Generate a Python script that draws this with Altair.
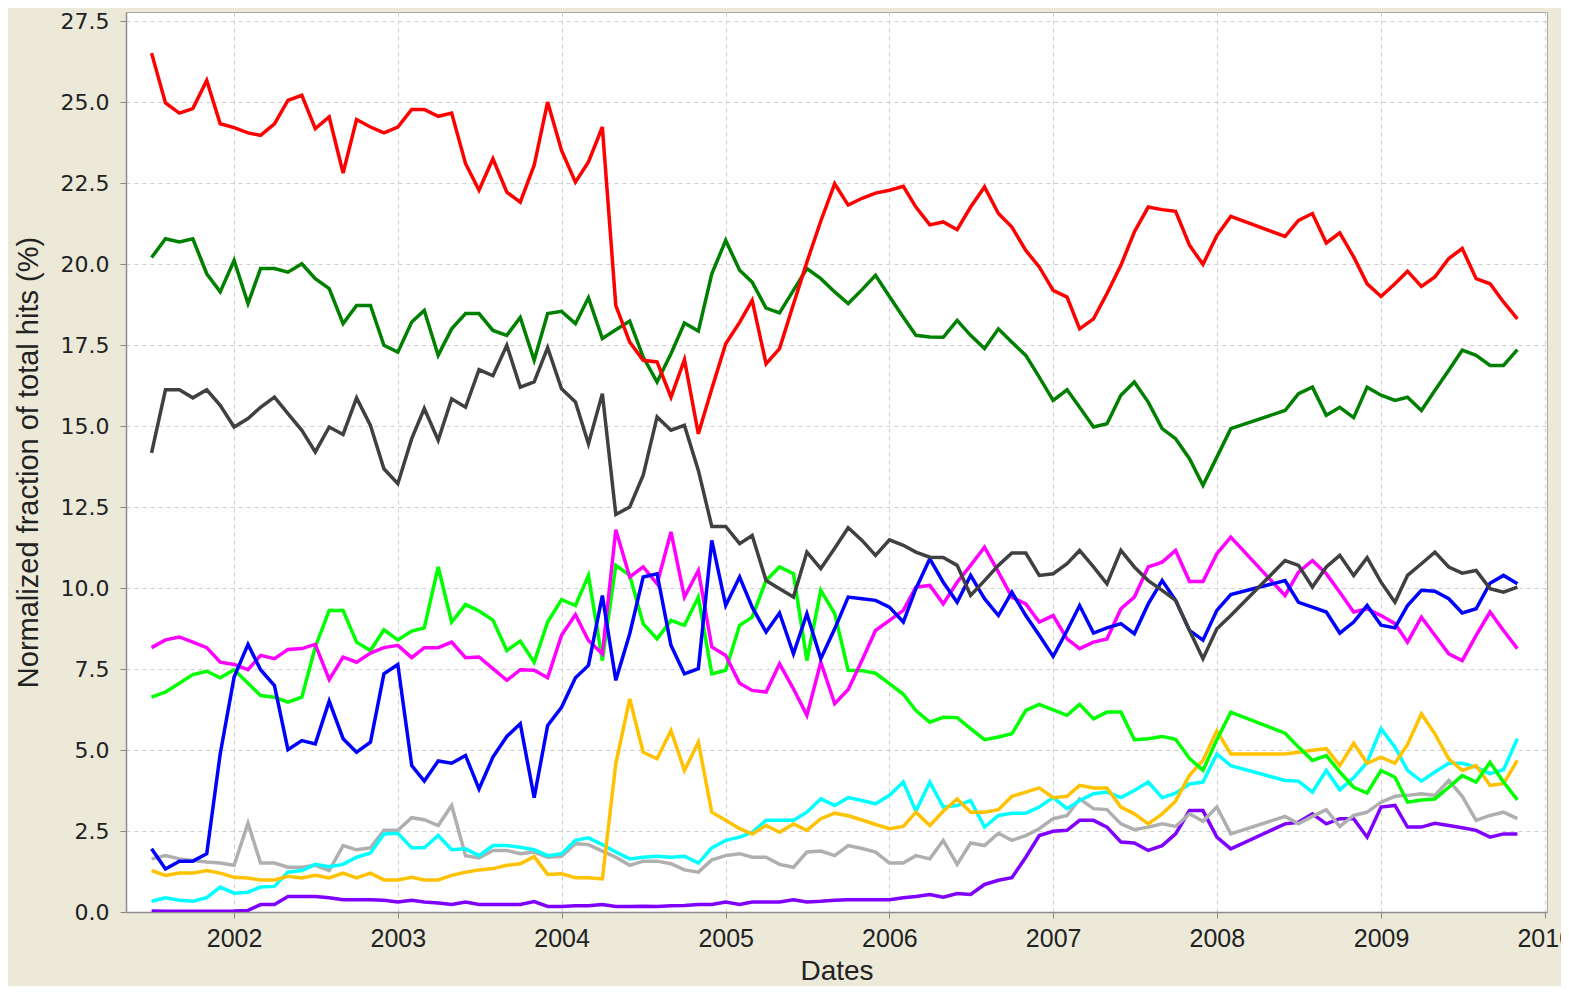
import altair as alt
import pandas as pd

N = None
red = [26.51, 24.97, 24.66, 24.80, 25.67, 24.33, 24.21, 24.05, 23.97, 24.33, 25.05, 25.21, 24.18, 24.54, 22.81, 24.46, 24.23, 24.05, 24.23, 24.77, 24.77, 24.56, 24.66, 23.10, 22.28, 23.25, 22.22, 21.91, 23.05, 25.00, 23.51, 22.53, 23.15, 24.23, 18.72, 17.59, 17.03, 16.98, 15.89, 17.05, 14.76, 16.15, 17.54, 18.20, 18.88, 16.92, 17.39, 18.76, 20.06, 21.33, 22.48, 21.82, 22.03, 22.19, 22.28, 22.40, 21.76, 21.21, 21.30, 21.06, 21.76, 22.38, 21.56, 21.14, 20.42, 19.91, 19.19, 18.98, 18.00, 18.31, 19.09, 19.96, 20.99, 21.76, 21.68, 21.63, 20.58, 19.99, 20.88, 21.47, N, N, N, 20.85, 21.35, 21.56, 20.65, 20.96, 20.22, 19.39, 19.00, 19.39, 19.78, 19.31, 19.60, 20.17, 20.48, 19.55, 19.39, 18.83, 18.31]
dark_green = [20.20, 20.78, 20.68, 20.78, 19.70, 19.14, 20.11, 18.78, 19.86, 19.86, 19.75, 20.01, 19.55, 19.24, 18.16, 18.72, 18.72, 17.49, 17.28, 18.21, 18.57, 17.18, 18.00, 18.47, 18.47, 17.95, 17.80, 18.35, 17.03, 18.47, 18.54, 18.16, 18.96, 17.70, 17.97, 18.24, 17.13, 16.36, 17.23, 18.18, 17.93, 19.70, 20.73, 19.81, 19.44, 18.64, 18.49, 19.19, 19.86, 19.55, 19.14, 18.78, 19.21, 19.65, 19.00, 18.36, 17.80, 17.75, 17.74, 18.26, 17.80, 17.39, 18.00, 17.59, 17.18, 16.51, 15.79, 16.12, 15.58, 14.97, 15.07, 15.95, 16.36, 15.74, 14.92, 14.61, 13.99, 13.17, 14.04, 14.92, N, N, N, 15.48, 16.00, 16.20, 15.33, 15.58, 15.26, 16.20, 15.95, 15.79, 15.89, 15.48, 16.10, 16.72, 17.34, 17.18, 16.87, 16.87, 17.36]
dark_gray = [14.17, 16.12, 16.12, 15.87, 16.12, 15.64, 14.97, 15.23, 15.58, 15.89, 15.38, 14.87, 14.20, 14.97, 14.74, 15.87, 15.02, 13.68, 13.22, 14.61, 15.54, 14.56, 15.84, 15.58, 16.74, 16.55, 17.49, 16.20, 16.36, 17.42, 16.15, 15.74, 14.45, 16.00, 12.27, 12.50, 13.48, 15.28, 14.87, 15.02, 13.63, 11.90, 11.90, 11.37, 11.62, 10.23, 9.98, 9.72, 11.11, 10.60, 11.23, 11.86, 11.47, 11.01, 11.49, 11.32, 11.11, 10.95, 10.94, 10.70, 9.77, 10.23, 10.70, 11.08, 11.08, 10.39, 10.44, 10.75, 11.16, 10.65, 10.13, 11.16, 10.65, 10.23, 9.93, 9.62, 8.69, 7.82, 8.74, 9.15, N, N, N, 10.85, 10.70, 10.03, 10.65, 11.01, 10.39, 10.94, 10.18, 9.56, 10.39, 10.75, 11.11, 10.65, 10.46, 10.54, 9.98, 9.87, 10.03]
magenta = [8.16, 8.40, 8.49, 8.33, 8.16, 7.71, 7.64, 7.48, 7.92, 7.82, 8.10, 8.13, 8.26, 7.17, 7.87, 7.71, 7.99, 8.16, 8.23, 7.85, 8.16, 8.16, 8.33, 7.85, 7.87, 7.51, 7.15, 7.48, 7.46, 7.23, 8.54, 9.18, 8.38, 7.97, 11.80, 10.34, 10.65, 10.13, 11.73, 9.72, 10.54, 8.18, 7.92, 7.06, 6.84, 6.79, 7.66, 6.89, 6.07, 7.71, 6.43, 6.87, 7.77, 8.69, 9.00, 9.31, 10.03, 10.08, 9.51, 10.18, 10.70, 11.26, 10.49, 9.72, 9.51, 8.95, 9.15, 8.43, 8.13, 8.33, 8.43, 9.36, 9.72, 10.65, 10.80, 11.16, 10.20, 10.20, 11.06, 11.57, N, N, N, 9.77, 10.49, 10.85, 10.44, 9.87, 9.26, 9.36, 9.15, 8.90, 8.33, 9.10, 8.54, 7.97, 7.76, 8.54, 9.26, 8.69, 8.13]
blue = [1.95, 1.33, 1.57, 1.57, 1.80, 4.88, 7.25, 8.26, 7.48, 6.99, 5.01, 5.29, 5.19, 6.51, 5.35, 4.93, 5.24, 7.35, 7.64, 4.52, 4.04, 4.66, 4.59, 4.83, 3.80, 4.78, 5.42, 5.81, 3.53, 5.76, 6.32, 7.23, 7.61, 9.77, 7.15, 8.59, 10.34, 10.44, 8.23, 7.35, 7.51, 11.47, 9.46, 10.34, 9.41, 8.64, 9.23, 7.97, 9.21, 7.82, 8.74, 9.72, 9.67, 9.62, 9.41, 8.95, 9.98, 10.90, 10.18, 9.56, 10.39, 9.67, 9.15, 9.87, 9.15, 8.54, 7.89, 8.69, 9.46, 8.61, 8.77, 8.90, 8.59, 9.51, 10.23, 9.62, 8.69, 8.39, 9.31, 9.80, N, N, N, 10.23, 9.56, 9.41, 9.26, 8.61, 8.95, 9.46, 8.85, 8.77, 9.46, 9.93, 9.90, 9.67, 9.23, 9.36, 10.15, 10.39, 10.13]
lime = [6.63, 6.79, 7.06, 7.33, 7.43, 7.23, 7.48, 7.06, 6.68, 6.63, 6.48, 6.63, 8.18, 9.31, 9.31, 8.33, 8.07, 8.71, 8.40, 8.67, 8.77, 10.65, 8.95, 9.49, 9.29, 9.01, 8.07, 8.36, 7.71, 8.95, 9.64, 9.46, 10.39, 7.76, 10.70, 10.39, 8.90, 8.43, 9.00, 8.85, 9.72, 7.35, 7.46, 8.85, 9.10, 10.23, 10.65, 10.44, 7.76, 9.93, 9.21, 7.46, 7.45, 7.37, 7.05, 6.72, 6.22, 5.86, 6.01, 6.00, 5.66, 5.32, 5.40, 5.50, 6.22, 6.41, 6.24, 6.07, 6.41, 5.96, 6.17, 6.17, 5.32, 5.35, 5.42, 5.33, 4.74, 4.37, 5.32, 6.17, N, N, N, 5.52, 5.09, 4.68, 4.83, 4.32, 3.85, 3.67, 4.37, 4.16, 3.39, 3.46, 3.49, 3.85, 4.21, 4.01, 4.62, 4.01, 3.46]
orange = [1.28, 1.13, 1.20, 1.20, 1.28, 1.20, 1.07, 1.05, 0.99, 0.99, 1.10, 1.05, 1.13, 1.05, 1.20, 1.05, 1.20, 0.99, 0.99, 1.07, 0.99, 0.99, 1.13, 1.23, 1.30, 1.34, 1.44, 1.49, 1.71, 1.16, 1.18, 1.06, 1.06, 1.02, 4.58, 6.58, 4.93, 4.73, 5.60, 4.37, 5.24, 3.08, 2.83, 2.57, 2.41, 2.67, 2.46, 2.72, 2.52, 2.88, 3.05, 2.97, 2.84, 2.70, 2.57, 2.64, 3.08, 2.67, 3.11, 3.49, 3.08, 3.08, 3.16, 3.57, 3.70, 3.83, 3.53, 3.57, 3.91, 3.83, 3.83, 3.24, 3.03, 2.72, 3.03, 3.42, 4.22, 4.68, 5.59, 4.88, N, N, N, 4.88, 4.93, 4.99, 5.04, 4.52, 5.21, 4.59, 4.78, 4.59, 5.17, 6.12, 5.50, 4.73, 4.37, 4.52, 3.91, 3.96, 4.68]
cyan = [0.33, 0.44, 0.36, 0.33, 0.44, 0.77, 0.58, 0.61, 0.77, 0.79, 1.23, 1.28, 1.47, 1.40, 1.47, 1.69, 1.82, 2.41, 2.43, 1.98, 1.98, 2.36, 1.92, 1.95, 1.74, 2.05, 2.05, 2.00, 1.92, 1.74, 1.80, 2.21, 2.29, 2.08, 1.85, 1.64, 1.69, 1.72, 1.69, 1.72, 1.51, 1.98, 2.21, 2.31, 2.46, 2.83, 2.83, 2.83, 3.08, 3.49, 3.29, 3.53, 3.44, 3.34, 3.60, 4.01, 3.11, 4.01, 3.24, 3.29, 3.44, 2.62, 2.98, 3.05, 3.05, 3.24, 3.53, 3.19, 3.44, 3.65, 3.70, 3.53, 3.75, 4.01, 3.53, 3.67, 3.95, 4.01, 4.88, 4.52, N, N, N, 4.06, 4.04, 3.70, 4.37, 3.77, 4.14, 4.62, 5.66, 5.09, 4.37, 4.04, 4.32, 4.59, 4.59, 4.47, 4.27, 4.39, 5.35]
light_gray = [1.64, 1.74, 1.64, 1.59, 1.54, 1.51, 1.44, 2.74, 1.51, 1.51, 1.38, 1.38, 1.44, 1.28, 2.05, 1.92, 1.98, 2.52, 2.52, 2.91, 2.85, 2.67, 3.29, 1.74, 1.67, 1.90, 1.90, 1.80, 1.85, 1.69, 1.72, 2.11, 2.08, 1.88, 1.69, 1.44, 1.57, 1.57, 1.49, 1.30, 1.23, 1.61, 1.74, 1.80, 1.69, 1.69, 1.47, 1.38, 1.85, 1.88, 1.74, 2.05, 1.96, 1.85, 1.51, 1.51, 1.74, 1.64, 2.21, 1.47, 2.13, 2.05, 2.43, 2.21, 2.36, 2.57, 2.88, 2.98, 3.49, 3.19, 3.16, 2.72, 2.54, 2.62, 2.72, 2.64, 3.03, 2.80, 3.24, 2.41, N, N, N, 2.95, 2.72, 2.95, 3.16, 2.64, 2.98, 3.08, 3.39, 3.57, 3.60, 3.65, 3.60, 4.06, 3.57, 2.83, 2.98, 3.08, 2.88]
purple = [0.03, 0.02, 0.02, 0.02, 0.02, 0.02, 0.03, 0.05, 0.23, 0.23, 0.48, 0.48, 0.48, 0.44, 0.38, 0.38, 0.38, 0.36, 0.31, 0.36, 0.31, 0.28, 0.23, 0.31, 0.23, 0.23, 0.23, 0.23, 0.32, 0.17, 0.17, 0.19, 0.19, 0.23, 0.17, 0.17, 0.18, 0.17, 0.19, 0.20, 0.23, 0.23, 0.31, 0.23, 0.31, 0.31, 0.31, 0.38, 0.31, 0.33, 0.36, 0.38, 0.38, 0.38, 0.38, 0.44, 0.48, 0.54, 0.46, 0.57, 0.54, 0.85, 0.98, 1.06, 1.69, 2.36, 2.49, 2.52, 2.83, 2.83, 2.62, 2.16, 2.13, 1.90, 2.05, 2.41, 3.13, 3.13, 2.31, 1.95, N, N, N, 2.72, 2.77, 3.03, 2.72, 2.88, 2.88, 2.31, 3.24, 3.29, 2.62, 2.62, 2.74, 2.67, 2.60, 2.52, 2.31, 2.41, 2.41]

# drawing order: bottom -> top
series_names = ["S01 purple", "S02 light gray", "S03 cyan", "S04 orange", "S05 lime",
                "S06 magenta", "S07 blue", "S08 dark gray", "S09 dark green", "S10 red"]
series_values = [purple, light_gray, cyan, orange, lime, magenta, blue, dark_gray, dark_green, red]
series_colors = ["#8000FF", "#AFAFAF", "#00FFFF", "#FFC200", "#00FF00",
                 "#FF00FF", "#0000FF", "#404040", "#008000", "#FF0000"]

months = [d.strftime("%Y-%m-%d") for d in pd.date_range("2001-07-01", periods=101, freq="MS")]

rows = []
for name, vals in zip(series_names, series_values):
    for m, v in zip(months, vals):
        if v is not None:
            rows.append({"date": m, "value": v, "series": name})
df = pd.DataFrame(rows)

year_ticks = [alt.DateTime(year=y, month=1, date=1, utc=True) for y in range(2002, 2011)]
y_ticks = [i * 2.5 for i in range(12)]

chart = alt.Chart(df).mark_line(strokeWidth=3.5, strokeJoin="miter", clip=True).encode(
    x=alt.X("date:T",
            scale=alt.Scale(type="utc",
                            domain=[alt.DateTime(year=2001, month=5, date=5, utc=True),
                                    alt.DateTime(year=2010, month=1, date=6, utc=True)]),
            axis=alt.Axis(values=year_ticks, format="%Y", title="Dates",
                          labelFont="Liberation Sans", labelFontSize=25, labelColor="#222222",
                          labelPadding=8, tickSize=6, tickColor="#888888",
                          titleFont="Liberation Sans", titleFontSize=28, titleFontWeight="normal",
                          titleColor="#222222", titleBaseline="alphabetic", titleY=67,
                          domainColor="#8C8C8C", domainWidth=1.5,
                          grid=True, gridColor="#CFCFCF", gridDash=[4, 4], gridWidth=1)),
    y=alt.Y("value:Q",
            scale=alt.Scale(domain=[0, 27.78], nice=False, zero=True),
            axis=alt.Axis(values=y_ticks, format=".1f",
                          title="Normalized fraction of total hits (%)",
                          labelFont="DejaVu Sans", labelFontSize=22, labelColor="#222222",
                          labelPadding=11, tickSize=6, tickColor="#888888",
                          titleFont="Liberation Sans", titleFontSize=29, titleFontWeight="normal",
                          titleColor="#222222", titleBaseline="middle", titleX=-98, titleY=450,
                          domainColor="#8C8C8C", domainWidth=1.5,
                          grid=True, gridColor="#CFCFCF", gridDash=[4, 4], gridWidth=1)),
    color=alt.Color("series:N", scale=alt.Scale(domain=series_names, range=series_colors), legend=None),
    detail="series:N",
).properties(
    width=1421, height=900,
    autosize=alt.AutoSizeParams(type="none"),
    padding={"left": 118, "top": 4, "right": 14, "bottom": 74},
    background="#ECE9D8",
).configure_view(
    fill="white", stroke="#A8A8A8", strokeWidth=1
)

chart.save("out.html", embed_options={"renderer": "svg", "actions": False})
